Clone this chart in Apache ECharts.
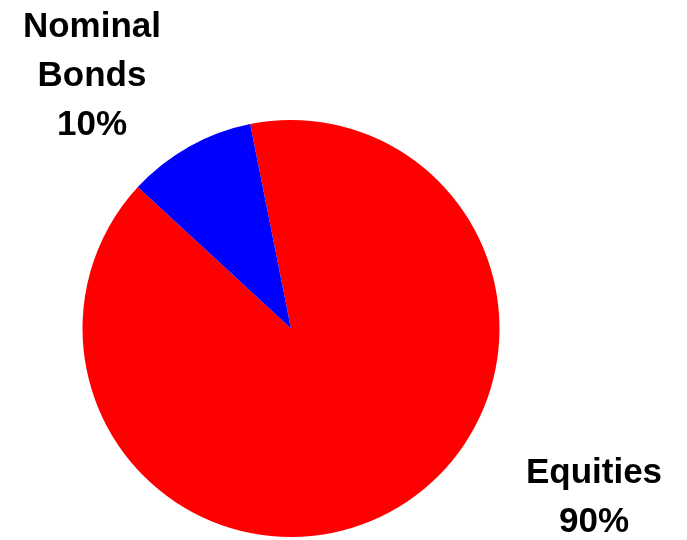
<!DOCTYPE html>
<html>
<head>
<meta charset="utf-8">
<script src="https://cdn.jsdelivr.net/npm/echarts@6/dist/echarts.min.js"></script>
<style>
  html, body { margin: 0; padding: 0; background: #ffffff; }
  #chart { width: 687px; height: 540px; }
</style>
</head>
<body>
<div id="chart"></div>
<script>
// Portfolio allocation
const categories = ['Equities', 'Nominal Bonds'];
const shares = [90, 10];
const sliceColors = ['#ff0000', '#0000ff'];

// Where each label block is centred on the page
const labelSpots = [
  { x: 594, y: 498 },
  { x: 92, y: 76 }
];

const chart = echarts.init(document.getElementById('chart'), null, { renderer: 'canvas' });

chart.setOption({
  animation: false,
  backgroundColor: '#ffffff',
  series: [{
    type: 'pie',
    center: [291, 328.5],
    radius: 208.5,
    startAngle: 101.3,
    clockwise: true,
    silent: true,
    data: categories.map((name, i) => ({
      name: name,
      value: shares[i],
      itemStyle: { color: sliceColors[i], borderWidth: 0 }
    })),
    label: {
      show: true,
      formatter: p => p.name.replace(' ', '\n') + '\n' + p.value + '%',
      fontFamily: 'Liberation Sans, Arial, sans-serif',
      fontWeight: 'bold',
      fontSize: 35,
      lineHeight: 49,
      color: '#000000',
      align: 'center',
      overflow: 'none',
      width: 200
    },
    labelLine: { show: false },
    labelLayout: params => ({
      x: labelSpots[params.dataIndex].x,
      y: labelSpots[params.dataIndex].y,
      align: 'center',
      verticalAlign: 'middle',
      hideOverlap: false
    })
  }]
});
</script>
</body>
</html>
